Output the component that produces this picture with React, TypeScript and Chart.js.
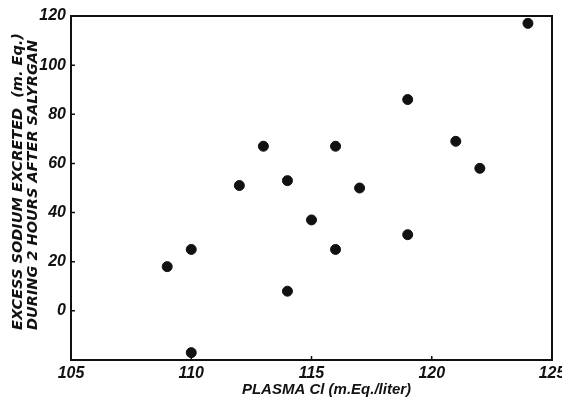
import { useEffect, useRef } from 'react';
import { Chart, registerables } from 'chart.js';

Chart.register(...registerables);

const plasmaCl = [109, 110, 110, 112, 113, 114, 114, 115, 116, 116, 117, 119, 119, 121, 122, 124];
const sodiumExcreted = [18, 25, -17, 51, 67, 53, 8, 37, 67, 25, 50, 86, 31, 69, 58, 117];
const xTickValues = [105, 110, 115, 120, 125];
const yTickValues = [0, 20, 40, 60, 80, 100, 120];
const xTitle = 'PLASMA Cl (m.Eq./liter)';
const yTitle = ['EXCESS SODIUM EXCRETED  (m. Eq.)', 'DURING 2 HOURS AFTER SALYRGAN'];

const INK = '#111';
const FAMILY = '"Liberation Sans", Arial, sans-serif';
const TITLE_FAMILY = '"DejaVu Sans", sans-serif';

const framePlugin = {
  id: 'frameAndTitles',
  afterDraw(chart: any) {
    const { ctx, chartArea } = chart;
    const xs = chart.scales.x;
    const ys = chart.scales.y;
    ctx.save();
    ctx.strokeStyle = INK;
    ctx.lineWidth = 2;
    ctx.strokeRect(chartArea.left, chartArea.top, chartArea.right - chartArea.left, chartArea.bottom - chartArea.top);
    ctx.lineWidth = 1.5;
    ctx.beginPath();
    for (const v of xTickValues) {
      const px = xs.getPixelForValue(v);
      ctx.moveTo(px, chartArea.bottom);
      ctx.lineTo(px, chartArea.bottom - 4);
    }
    for (const v of yTickValues) {
      const py = ys.getPixelForValue(v);
      ctx.moveTo(chartArea.left, py);
      ctx.lineTo(chartArea.left + 4, py);
    }
    ctx.stroke();

    ctx.fillStyle = INK;
    ctx.textAlign = 'center';
    ctx.textBaseline = 'middle';
    ctx.font = `italic bold 15px ${FAMILY}`;
    ctx.fillText(xTitle, (chartArea.left + chartArea.right) / 2 + 15, 390);

    ctx.font = `oblique bold 14.5px ${TITLE_FAMILY}`;
    ctx.textAlign = 'left';
    const lineX = [18, 33];
    yTitle.forEach((t, i) => {
      ctx.save();
      ctx.translate(lineX[i], 330);
      ctx.rotate(-Math.PI / 2);
      ctx.fillText(t, 0, 0);
      ctx.restore();
    });
    ctx.restore();
  },
};

export default function App() {
  const ref = useRef<HTMLCanvasElement | null>(null);
  useEffect(() => {
    document.body.style.margin = '0';
    if (!ref.current) return;
    const tickFont = { family: FAMILY, size: 16, weight: 'bold' as const, style: 'italic' as const };
    const chart = new Chart(ref.current, {
      type: 'scatter',
      data: {
        datasets: [
          {
            data: plasmaCl.map((x, i) => ({ x, y: sodiumExcreted[i] })),
            backgroundColor: INK,
            borderColor: INK,
            pointRadius: 5,
            pointHoverRadius: 5,
          },
        ],
      },
      options: {
        animation: false,
        responsive: false,
        events: [],
        layout: { padding: { top: 16, right: 10, left: 0, bottom: 0 } },
        plugins: { legend: { display: false }, tooltip: { enabled: false } },
        scales: {
          x: {
            type: 'linear',
            min: 105,
            max: 125,
            grid: { display: false, drawTicks: false },
            border: { display: false },
            ticks: { stepSize: 5, color: INK, font: tickFont, padding: 4, maxRotation: 0 },
            afterFit: (s: any) => {
              s.height = 42;
              s.paddingLeft = 0;
              s.paddingRight = 0;
            },
          },
          y: {
            type: 'linear',
            min: -20,
            max: 120,
            grid: { display: false, drawTicks: false },
            border: { display: false },
            ticks: {
              stepSize: 20,
              color: INK,
              font: tickFont,
              padding: 5,
              callback: (v: any) => (v < 0 ? '' : String(v)),
            },
            afterFit: (s: any) => {
              s.width = 71;
              s.paddingTop = 0;
              s.paddingBottom = 0;
            },
          },
        },
      },
      plugins: [framePlugin],
    });
    return () => chart.destroy();
  }, []);
  return (
    <div style={{ width: 562, height: 402, background: '#fff' }}>
      <canvas ref={ref} width={562} height={402} />
    </div>
  );
}
